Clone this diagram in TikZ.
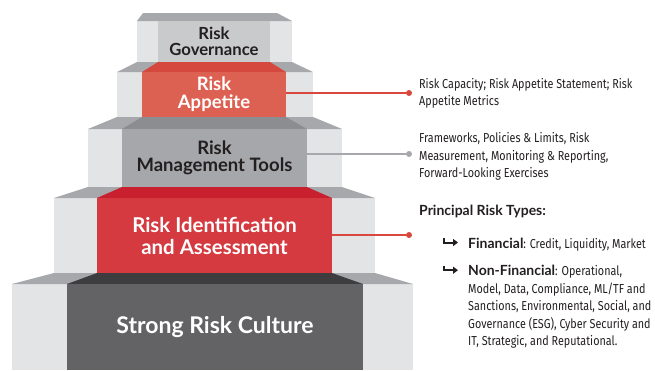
\documentclass[tikz,border=0pt]{standalone}
\usepackage{fontspec}
\usetikzlibrary{arrows.meta}
\setmainfont{Lato}
\newfontfamily\cond{Fira Sans}[FakeStretch=0.83]
\definecolor{sidegrey}{HTML}{E3E4E6}
\definecolor{capgrey}{HTML}{A7A8AB}
\definecolor{topface}{HTML}{C9CACC}
\definecolor{appface}{HTML}{DD6152}
\definecolor{appcap}{HTML}{D4483D}
\definecolor{toolface}{HTML}{A6A7AA}
\definecolor{toolcap}{HTML}{8C8D90}
\definecolor{idface}{HTML}{D43A3F}
\definecolor{idcap}{HTML}{C8202F}
\definecolor{cultface}{HTML}{636365}
\definecolor{cultcap}{HTML}{3D3D3F}
\definecolor{ink}{HTML}{231F20}
\definecolor{redline}{HTML}{D9473F}
\definecolor{greyline}{HTML}{A7A8AB}
\begin{document}
\begin{tikzpicture}[x=1pt,y=-1pt,
  face/.style={inner sep=0pt,outer sep=0pt,anchor=north west,align=center,font=\bfseries},
  dotnode/.style={circle,inner sep=0pt,minimum size=6pt},
  side/.style={fill=sidegrey},
  capg/.style={fill=capgrey},
  conn/.style={line width=1.3pt},
  desc/.style={inner sep=0pt,anchor=north west,align=left,text=ink,font=\cond\fontsize{13}{17.4}\selectfont},
  bularrow/.style={draw=ink,line width=2pt,-{Triangle[length=5pt,width=7pt]}}]
\useasboundingbox (0,0) rectangle (655,370);
% tier 1
\fill[side] (137,21) rectangle (292,62);
\fill[capg] (143,13) -- (277,13) -- (292,21) -- (137,21) -- cycle;
\node[face,fill=topface,text=ink,minimum width=112pt,minimum height=41pt,
  font=\bfseries\fontsize{16.7}{16}\selectfont] (gov) at (158,21) {Risk\\Governance};
% tier 2
\fill[side] (117,72) rectangle (313,117);
\fill[capg] (137,62) -- (292,62) -- (313,72) -- (117,72) -- cycle;
\fill[appcap] (158,62) -- (270,62) -- (286,72) -- (142,72) -- cycle;
\node[face,fill=appface,text=white,minimum width=144pt,minimum height=45pt,
  font=\bfseries\fontsize{18.5}{18}\selectfont] (app) at (142,72) {Risk\\Appetite};
% tier 3
\fill[side] (88,129) rectangle (342,187);
\fill[capg] (117,117) -- (313,117) -- (342,129) -- (88,129) -- cycle;
\fill[toolcap] (142,117) -- (286,117) -- (307,129) -- (122,129) -- cycle;
\node[face,fill=toolface,text=ink,minimum width=185pt,minimum height=58pt,
  font=\bfseries\fontsize{18.5}{16.7}\selectfont] (tools) at (122,129) {Risk\\Management Tools};
% tier 4
\fill[side] (54,198) rectangle (375,273);
\fill[capg] (88,187) -- (342,187) -- (375,198) -- (54,198) -- cycle;
\fill[idcap] (122,187) -- (307,187) -- (332,198) -- (97,198) -- cycle;
\node[face,fill=idface,text=white,minimum width=235pt,minimum height=75pt,
  font=\bfseries\fontsize{20.4}{22}\selectfont] (ident) at (97,198) {Risk Identification\\and Assessment};
% tier 5
\fill[side] (12,284) rectangle (413,370);
\fill[capg] (54,273) -- (375,273) -- (413,284) -- (12,284) -- cycle;
\fill[cultcap] (97,273) -- (332,273) -- (363,284) -- (67,284) -- cycle;
\node[face,fill=cultface,text=white,minimum width=296pt,minimum height=86pt,
  font=\bfseries\fontsize{23}{26}\selectfont] (cult) at (67,284) {Strong Risk Culture};
% connectors
\node[dotnode,fill=redline] (appdot) at (409,93) {};
\node[dotnode,fill=greyline] (tooldot) at (409,154) {};
\node[dotnode,fill=redline] (iddot) at (409,235) {};
\draw[conn,redline] (app.east |- appdot) -- (appdot);
\draw[conn,greyline] (tools.east |- tooldot) -- (tooldot);
\draw[conn,redline] (ident.east |- iddot) -- (iddot);
% descriptions
\node[desc] (appt) at (419,76.1) {\strut Risk Capacity; Risk Appetite Statement; Risk\\Appetite Metrics};
\node[desc] (toolt) at (419,130.5) {\strut Frameworks, Policies \& Limits, Risk\\Measurement, Monitoring \& Reporting,\\Forward-Looking Exercises};
\node[inner sep=0pt,anchor=base west,text=ink,font=\bfseries\fontsize{14}{17}\selectfont] (prt) at (419,215) {Principal Risk Types:};
\draw[bularrow] (443.5,238) |- (458,242.5);
\draw[bularrow] (443.5,265.7) |- (458,270.2);
\node[desc] (fin) at (468,235.8) {\strut{\rmfamily\bfseries\fontsize{14}{17.4}\selectfont Financial}: Credit, Liquidity, Market};
\node[desc] (nonfin) at (468,263.5) {\strut{\rmfamily\bfseries\fontsize{14}{17.4}\selectfont Non-Financial}: Operational,\\Model, Data, Compliance, ML/TF and\\Sanctions, Environmental, Social, and\\Governance (ESG), Cyber Security and\\IT, Strategic, and Reputational.};
\end{tikzpicture}
\end{document}
